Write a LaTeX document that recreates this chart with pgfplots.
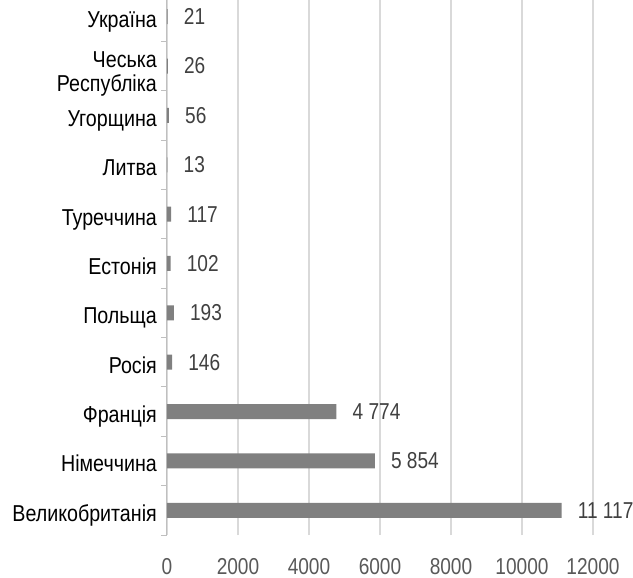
\documentclass[border=0pt]{standalone}
\usepackage{pgfplots}
\pgfplotsset{compat=1.18}
\usepackage{fontspec}
\setmainfont{Liberation Sans}[FakeStretch=0.83]
\newfontfamily\catfont{Liberation Sans}[FakeStretch=0.855]
\definecolor{bargray}{HTML}{808080}
\definecolor{gridgray}{HTML}{D9D9D9}
\definecolor{axgray}{HTML}{BFBFBF}
\definecolor{valgray}{HTML}{404040}
\definecolor{tickgray}{HTML}{595959}
\begin{document}
\fontsize{23bp}{23bp}\selectfont
\begin{tikzpicture}
\useasboundingbox (-167bp,-43bp) rectangle (466bp,535bp);
\clip (-167bp,-43bp) rectangle (466bp,535bp);
\begin{axis}[
  at={(0,0)}, anchor=south west,
  scale only axis, width=426bp, height=543bp,
  xbar, bar width=15bp,
  xmin=0, xmax=12000, ymin=-0.5, ymax=10.5,
  axis lines=left,
  axis line style={-},
  x axis line style={draw=none},
  y axis line style={draw=axgray, line width=1bp},
  xtick={0,2000,...,12000},
  xmajorgrids,
  major grid style={draw=gridgray, line width=1.3bp},
  ytick={0,...,10},
  yticklabels={Великобританія, Німеччина, Франція, Росія, Польща, Естонія, Туреччина, Литва, Угорщина, {\raisebox{-14bp}{\begin{tabular}[b]{@{}r@{}}Чеська\\Республіка\end{tabular}}}, Україна},
  minor ytick={-0.5,0.5,...,10.5},
  major tick length=0pt, minor tick length=6bp, tick align=outside,
  tick style={draw=axgray, line width=1bp},
  yticklabel style={anchor=base east, inner sep=0pt, xshift=-10bp, yshift=-11bp, text=black, font=\catfont\fontsize{23bp}{23bp}\selectfont},
  xticklabel style={anchor=north, inner sep=0pt, yshift=-23bp, text=tickgray, font=\fontsize{23bp}{23bp}\selectfont},
  /pgf/number format/assume math mode=true,
  scaled x ticks=false,
  /pgf/number format/1000 sep={},
  point meta=x,
  nodes near coords={\pgfmathprintnumber[fixed, precision=0, 1000 sep={\ }, assume math mode=true]{\pgfplotspointmeta}},
  every node near coord/.append style={anchor=west, inner sep=0pt, xshift=16bp, text=valgray, font=\fontsize{23bp}{23bp}\selectfont},
]
\addplot[fill=bargray, draw=none] coordinates {
(11117,0) (5854,1) (4774,2) (146,3) (193,4) (102,5) (117,6) (13,7) (56,8) (26,9) (21,10)
};
\end{axis}
\end{tikzpicture}
\end{document}
